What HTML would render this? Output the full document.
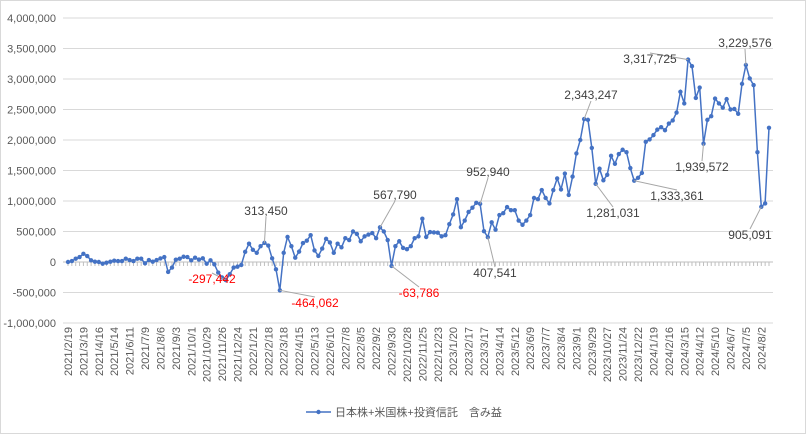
<!DOCTYPE html>
<html><head><meta charset="utf-8">
<style>
html,body{margin:0;padding:0;background:#fff;}
#wrap{width:806px;height:434px;position:relative;border:1px solid #d9d9d9;box-sizing:border-box;}
svg text{font-family:"Liberation Sans","Noto Sans CJK JP",sans-serif;}
</style></head>
<body>
<div id="wrap">
<svg id="chart" width="806" height="434"></svg>
</div>
<script>
const categoryLabels = ["2021/2/19","2021/3/19","2021/4/16","2021/5/14","2021/6/11","2021/7/9","2021/8/6","2021/9/3","2021/10/1","2021/10/29","2021/11/26","2021/12/24","2022/1/21","2022/2/18","2022/3/18","2022/4/15","2022/5/13","2022/6/10","2022/7/8","2022/8/5","2022/9/2","2022/9/30","2022/10/28","2022/11/25","2022/12/23","2023/1/20","2023/2/17","2023/3/17","2023/4/14","2023/5/12","2023/6/9","2023/7/7","2023/8/4","2023/9/1","2023/9/29","2023/10/27","2023/11/24","2023/12/22","2024/1/19","2024/2/16","2024/3/15","2024/4/12","2024/5/10","2024/6/7","2024/7/5","2024/8/2"];
const yTicks = [4000000,3500000,3000000,2500000,2000000,1500000,1000000,500000,0,-500000,-1000000];
const seriesValues = [0,16000,54000,81000,135000,97000,27000,5000,0,-27000,-11000,5000,22000,16000,16000,54000,32000,16000,54000,54000,-22000,32000,5000,32000,59000,81000,-162000,-92000,38000,54000,86000,81000,27000,70000,40000,60000,-27000,27000,-38000,-173000,-254000,-297442,-200000,-92000,-76000,-49000,167000,300000,200000,151000,259000,313450,270000,60000,-120000,-464062,150000,410000,260000,70000,170000,310000,350000,440000,190000,100000,220000,380000,320000,150000,300000,240000,390000,360000,500000,460000,340000,420000,450000,475000,390000,567790,500000,360000,-63786,260000,340000,230000,210000,260000,390000,420000,710000,410000,490000,485000,480000,420000,440000,620000,780000,1030000,570000,680000,820000,890000,970000,952940,505000,407541,650000,530000,770000,800000,900000,850000,850000,680000,610000,680000,770000,1050000,1030000,1180000,1050000,960000,1180000,1370000,1190000,1450000,1100000,1400000,1780000,2000000,2343247,2330000,1870000,1281031,1530000,1340000,1430000,1740000,1610000,1770000,1840000,1800000,1540000,1333361,1380000,1460000,1970000,2010000,2080000,2170000,2210000,2160000,2270000,2320000,2450000,2790000,2600000,3317725,3210000,2690000,2860000,1939572,2330000,2390000,2680000,2600000,2530000,2670000,2500000,2510000,2430000,2920000,3229576,3010000,2900000,1800000,905091,960000,2200000];
const labeledIdx = [41,51,55,81,84,107,109,134,137,147,161,165,176,180];
const labelPos = [[211,282],[265,214],[314,306],[394,198],[418,296],[487,175],[494,276],[590,98],[612,216],[676,199],[649,62],[701,170],[744,46],[749,238]];

const NS="http://www.w3.org/2000/svg";
const svg=document.getElementById('chart');
const X0=67, X1=768, YT=17, YB=322, VMAX=4000000, VMIN=-1000000;
function xs(i){return X0+(X1-X0)*i/(seriesValues.length-1);}
function ys(v){return YT+(VMAX-v)/(VMAX-VMIN)*(YB-YT);}
function mk(tag,attrs,parent){const e=document.createElementNS(NS,tag);for(const k in attrs)e.setAttribute(k,attrs[k]);(parent||svg).appendChild(e);return e;}
function fmt(v){return v.toLocaleString('en-US');}

yTicks.forEach(t=>{
  const g=mk('line',{x1:62,x2:772,y1:ys(t),y2:ys(t),stroke:'#d9d9d9','stroke-width':1});
  
  
  const tx=mk('text',{x:55,y:ys(t)+4,'text-anchor':'end','font-size':11,fill:'#595959'});
  tx.textContent=fmt(t);
  
  
});
const ax=mk('line',{x1:62,x2:772,y1:ys(0),y2:ys(0),stroke:'#bfbfbf','stroke-width':1});


for(let i=0;i<seriesValues.length;i++){
  const tk=mk('line',{x1:xs(i),x2:xs(i),y1:ys(0),y2:ys(0)+4,stroke:'#bfbfbf','stroke-width':1});
  
  
}
categoryLabels.forEach((c,k)=>{
  const x=xs(k*4)+4, y=326;
  const t=mk('text',{x:x,y:y,'text-anchor':'end','font-size':11,fill:'#595959',transform:`rotate(-90 ${x} ${y})`});
  t.textContent=c;
  
  
});
const pts=seriesValues.map((v,i)=>xs(i).toFixed(1)+','+ys(v).toFixed(1)).join(' ');
const pl=mk('polyline',{points:pts,fill:'none',stroke:'#4472c4','stroke-width':1.5});


seriesValues.forEach((v,i)=>{
  const c=mk('circle',{cx:xs(i),cy:ys(v),r:2.2,fill:'#4472c4'});
  
  
});
labeledIdx.forEach((idx,k)=>{
  const v=seriesValues[idx];
  const [lx,ly]=labelPos[k];
  const px=xs(idx), py=ys(v);
  const ld=mk('line',{x1:px,y1:py,x2:lx,y2:ly+(py>ly?2:-10),stroke:'#a6a6a6','stroke-width':1});
  
  
  const t=mk('text',{x:lx,y:ly,'text-anchor':'middle','font-size':12,fill:v<0?'#ff0000':'#404040'});
  t.textContent=fmt(v);
  
  
});
const lg=mk('g',{});


const ll=mk('line',{x1:305,x2:330,y1:411,y2:411,stroke:'#4472c4','stroke-width':1.5},lg);


const lc=mk('circle',{cx:317.5,cy:411,r:2.2,fill:'#4472c4'},lg);


const lt=mk('text',{x:334,y:415,'font-size':11,fill:'#595959'},lg);
lt.textContent='日本株+米国株+投資信託　含み益';


</script>
</body></html>
